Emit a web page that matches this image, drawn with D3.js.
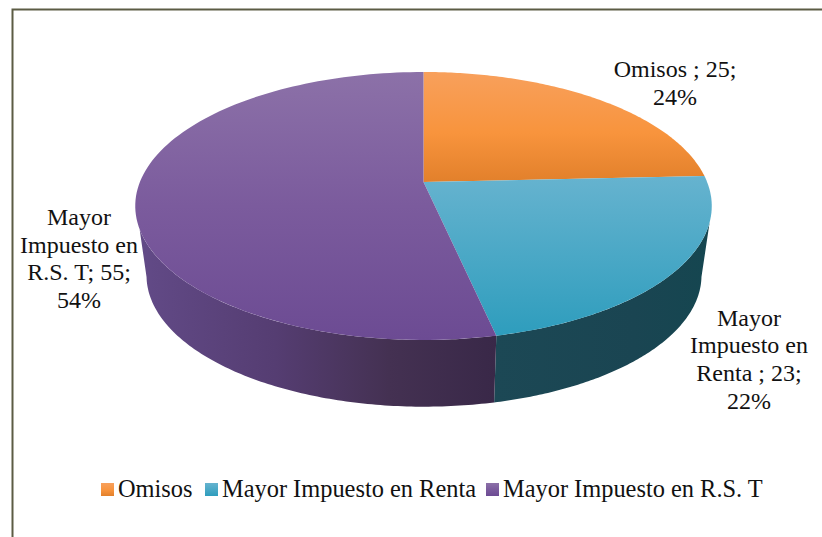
<!DOCTYPE html>
<html>
<head>
<meta charset="utf-8">
<script src="https://cdn.jsdelivr.net/npm/d3@7"></script>
<style>
html, body { margin: 0; padding: 0; background: #fff; overflow: hidden; }
text { font-family: "Liberation Serif", "Times New Roman", serif; fill: #111; }
</style>
</head>
<body>
<svg id="chart" width="822" height="537"></svg>
<script>
const categories = ["Omisos", "Mayor Impuesto en Renta", "Mayor Impuesto en R.S. T"];
const seriesValues = [25, 23, 55];
const dataLabelLines = [
  ["Omisos ; 25;", "24%"],
  ["Mayor", "Impuesto en", "Renta ; 23;", "22%"],
  ["Mayor", "Impuesto en", "R.S. T; 55;", "54%"]
];
const labelCentres = [[675, 77], [749, 325.5], [79, 225]];
const topColours = [
  [[0, "#f8a05c"], [0.55, "#f8943d"], [1, "#e2802b"]],
  [[0, "#66b3cf"], [1, "#2e9dbd"]],
  [[0, "#8c71a8"], [0.5, "#7b5b9d"], [1, "#6c4b93"]]
];
const sideStops = [
  [[0, "#8a4d16"], [1, "#8a4d16"]],
  [[0, "#154650"], [0.35, "#1a4552"], [1, "#1c4855"]],
  [[0, "#392848"], [0.3, "#443152"], [0.62, "#553d72"], [1, "#624a87"]]
];

const svg = d3.select("#chart");
const defs = svg.append("defs");

// Perspective view of the disc: rim point for a clockwise angle from twelve o'clock.
const tilt = -0.179;
const topDisc = { cx: 423.5, cy: 182, a: 283.6, b: 129.7 };
const baseDisc = { cx: 424, cy: 252, a: 273, b: 127 };
const rim = (disc, angle) => {
  const u = Math.sin(angle), v = -Math.cos(angle), w = 1 + tilt * v;
  return [disc.cx + disc.a * u / w, disc.cy + disc.b * v / w];
};
const arcPoints = (disc, a0, a1) => d3.range(0, 121).map(i => rim(disc, a0 + (a1 - a0) * i / 120));

const slices = d3.pie().sort(null)(seriesValues);
const line = d3.line();

// Frame around the chart area, running off the right and bottom of the page.
svg.append("path")
  .attr("d", "M12.5,537V9.5H822")
  .attr("fill", "none").attr("stroke", "#5c5c44").attr("stroke-width", 2);

// Outer wall: the visible part of the rim, closed by straight silhouette edges.
const rad = d3.scaleLinear().domain([0, 360]).range([0, 2 * Math.PI]);
const wallTop = [rad(107), rad(250)], wallBase = [rad(101), rad(259)];
slices.forEach((s, i) => {
  const t0 = Math.max(s.startAngle, wallTop[0]), t1 = Math.min(s.endAngle, wallTop[1]);
  if (t1 <= t0) return;
  const b0 = s.startAngle <= wallTop[0] ? wallBase[0] : s.startAngle;
  const b1 = s.endAngle >= wallTop[1] ? wallBase[1] : s.endAngle;
  const top = arcPoints(topDisc, t0, t1), base = arcPoints(baseDisc, b0, b1);
  const xs = top.concat(base).map(p => p[0]);
  const id = "side" + i;
  const g = defs.append("linearGradient").attr("id", id)
    .attr("gradientUnits", "userSpaceOnUse")
    .attr("x1", d3.max(xs)).attr("x2", d3.min(xs)).attr("y1", 0).attr("y2", 0);
  sideStops[i].forEach(d => g.append("stop").attr("offset", d[0]).attr("stop-color", d[1]));
  svg.append("path")
    .attr("d", line(top.concat(base.reverse())) + "Z")
    .attr("fill", `url(#${id})`);
});

// Upper surface of each slice, converging on the projected centre of the disc.
slices.forEach((s, i) => {
  const pts = [[topDisc.cx, topDisc.cy]].concat(arcPoints(topDisc, s.startAngle, s.endAngle));
  const ys = pts.map(p => p[1]);
  const id = "top" + i;
  const g = defs.append("linearGradient").attr("id", id)
    .attr("gradientUnits", "userSpaceOnUse")
    .attr("x1", 0).attr("x2", 0).attr("y1", d3.min(ys)).attr("y2", d3.max(ys));
  topColours[i].forEach(d => g.append("stop").attr("offset", d[0]).attr("stop-color", d[1]));
  svg.append("path")
    .attr("d", line(pts) + "Z")
    .attr("fill", `url(#${id})`);
});

// Data labels
const lineHeight = 27.7;
dataLabelLines.forEach((lines, i) => {
  const t = svg.append("text")
    .attr("text-anchor", "middle").attr("font-size", 24);
  lines.forEach((l, k) => t.append("tspan")
    .attr("x", labelCentres[i][0])
    .attr("y", labelCentres[i][1] + k * lineHeight)
    .text(l));
});

// Legend
const legendSwatchX = [101, 205, 486];
const legendY = 497;
categories.forEach((c, i) => {
  const id = "key" + i;
  const g = defs.append("linearGradient").attr("id", id).attr("x1", 0).attr("x2", 0).attr("y1", 0).attr("y2", 1);
  topColours[i].forEach(d => g.append("stop").attr("offset", d[0]).attr("stop-color", d[1]));
  svg.append("rect")
    .attr("x", legendSwatchX[i]).attr("y", legendY - 14)
    .attr("width", 13).attr("height", 13)
    .attr("fill", `url(#${id})`);
  svg.append("text")
    .attr("x", legendSwatchX[i] + 17).attr("y", legendY)
    .attr("font-size", 24.4)
    .text(c);
});
</script>
</body>
</html>
